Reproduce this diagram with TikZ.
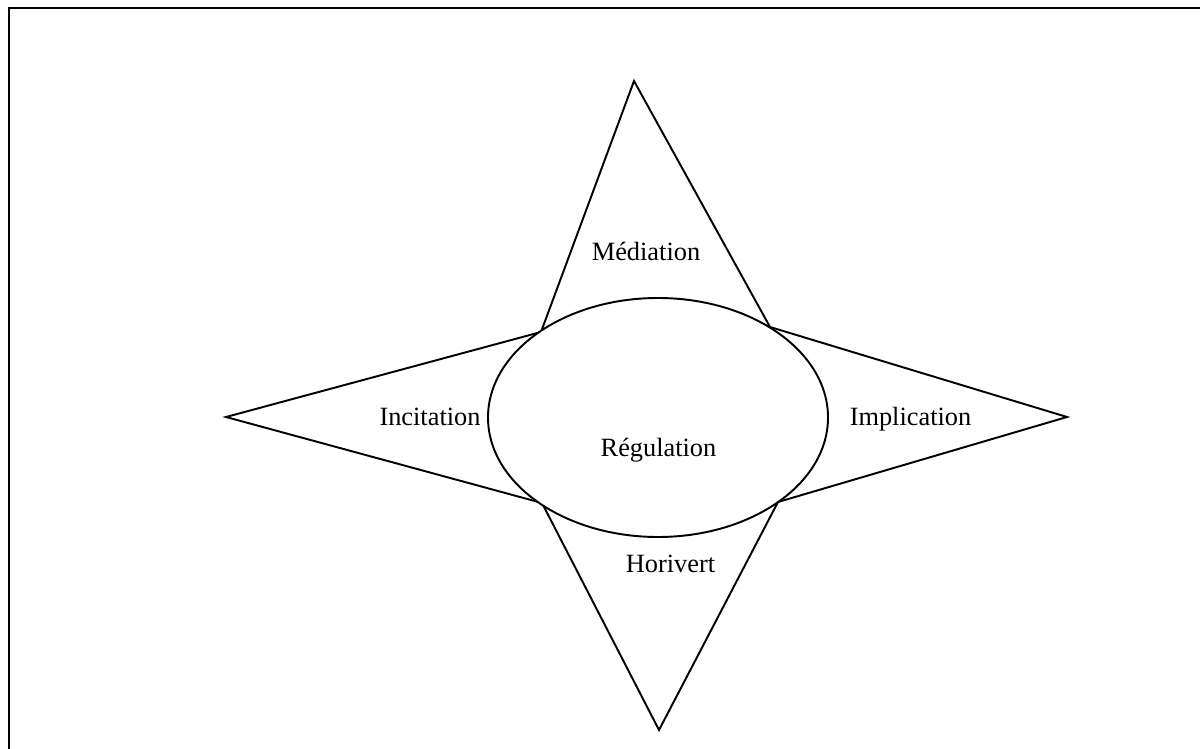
\documentclass[tikz,border=0pt]{standalone}
\usepackage{fontspec}
\setmainfont{Liberation Serif}
\begin{document}
\begin{tikzpicture}[x={(0.02cm,0)}, y={(0,-0.02cm)},
  edge/.style={line width=1.1pt, line join=miter},
  frameline/.style={line width=1.2pt},
  label/.style={inner sep=0pt, anchor=base, font=\fontsize{15}{18}\selectfont}]
  \useasboundingbox (0,0) rectangle (1200,749);

  % page frame (top and left edges)
  \coordinate (fTL) at (9,8);
  \coordinate (fTR) at (1205,8);
  \coordinate (fBL) at (9,755);
  \draw[frameline] (fTR) -- (fTL) -- (fBL);

  % star points
  \coordinate (nTop) at (634,81);
  \coordinate (nBot) at (659,730);
  \coordinate (nLeft) at (226,417);
  \coordinate (nRight) at (1067,417);

  % corners where the points meet the ellipse
  \coordinate (cNW) at (541,332);
  \coordinate (cNE) at (770,327);
  \coordinate (cSW) at (542,503);
  \coordinate (cSE) at (778,502);

  \draw[edge] (cNW) -- (nTop) -- (cNE);
  \draw[edge] (cNE) -- (nRight) -- (cSE);
  \draw[edge] (cSE) -- (nBot) -- (cSW);
  \draw[edge] (cSW) -- (nLeft) -- (cNW);

  % central ellipse
  \coordinate (center) at (658,417.5);
  \draw[edge, fill=white] (center) ellipse [x radius=170, y radius=119.5];

  % labels
  \node[label] (med) at (646,260.5) {Médiation};
  \node[label] (inc) at (430,426) {Incitation};
  \node[label] (imp) at (910.5,426) {Implication};
  \node[label] (reg) at (658.5,456.5) {Régulation};
  \node[label] (hor) at (670.5,572.5) {Horivert};
\end{tikzpicture}
\end{document}
